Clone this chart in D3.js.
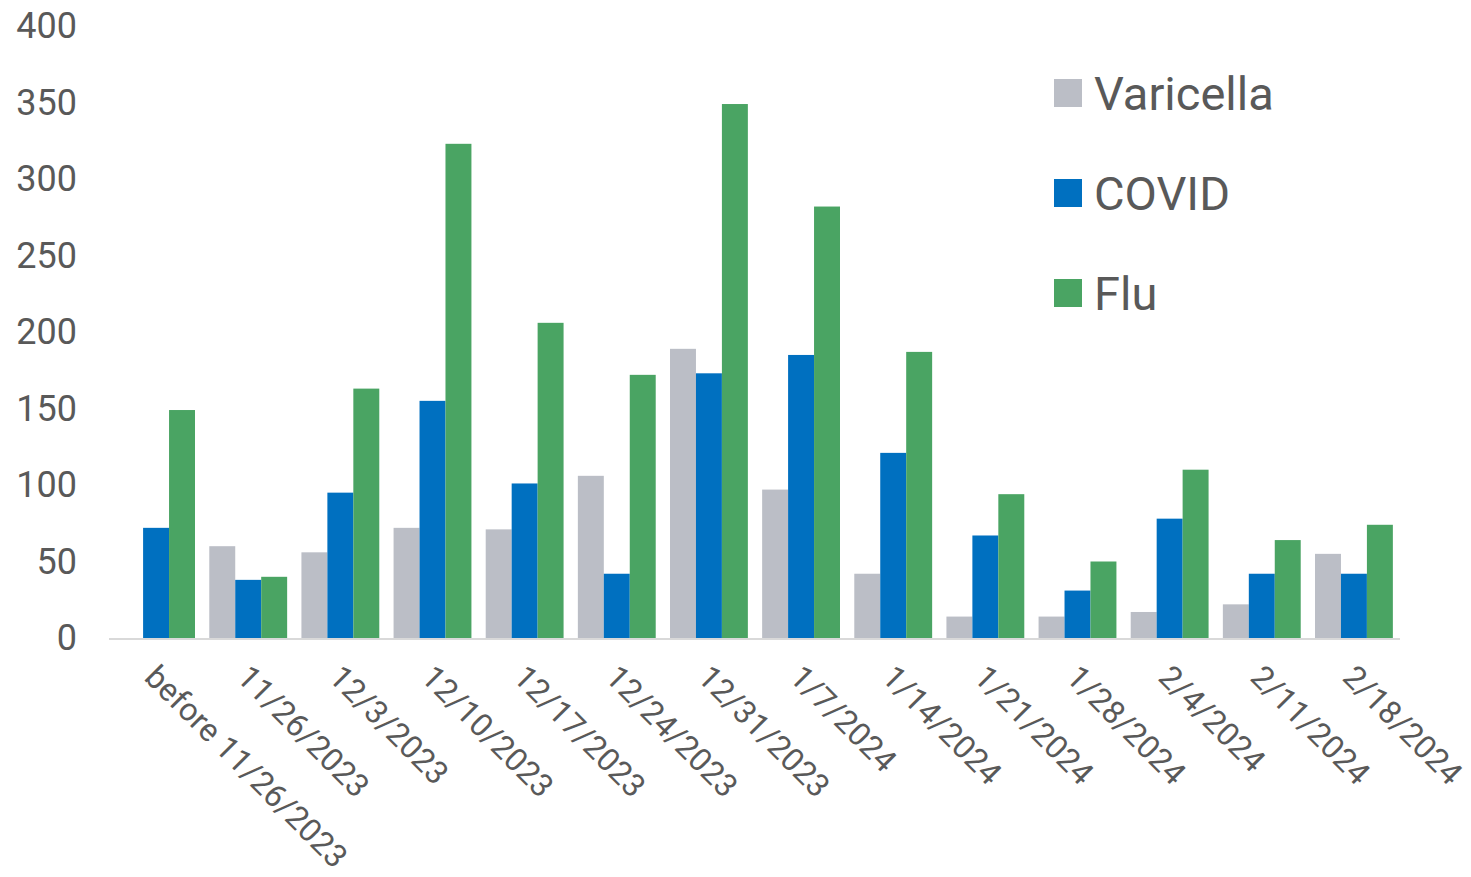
<!DOCTYPE html>
<html>
<head>
<meta charset="utf-8">
<script src="https://cdn.jsdelivr.net/npm/d3@7"></script>
<style>
  body { margin: 0; background: #fff; }
  text { font-family: Roboto, "Noto Sans", sans-serif; fill: #595959; }
</style>
</head>
<body>
<div id="chart"></div>
<script>
// categories and series
var categories = ['before 11/26/2023', '11/26/2023', '12/3/2023', '12/10/2023', '12/17/2023',
  '12/24/2023', '12/31/2023', '1/7/2024', '1/14/2024', '1/21/2024', '1/28/2024',
  '2/4/2024', '2/11/2024', '2/18/2024']
var seriesNames = ['Varicella', 'COVID', 'Flu']
var varicella = [0, 60, 56, 72, 71, 106, 189, 97, 42, 14, 14, 17, 22, 55]
var covid = [72, 38, 95, 155, 101, 42, 173, 185, 121, 67, 31, 78, 42, 42]
var flu = [149, 40, 163, 323, 206, 172, 349, 282, 187, 94, 50, 110, 64, 74]
var yTicks = [0, 50, 100, 150, 200, 250, 300, 350, 400]
var colors = ['#BBBEC6', '#0070C0', '#4AA463']

var width = 1471
var height = 877
var margin = {top: 26, right: 71, bottom: 239, left: 110}

var rows = categories.map((c, i) => {
  return {cat: c, values: [varicella[i], covid[i], flu[i]]}
})

var svg = d3.select('#chart')
  .append('svg')
  .attr('width', width)
  .attr('height', height)

var x0 = d3.scaleBand()
  .domain(categories)
  .range([margin.left, width - margin.right])
  .paddingInner(0.155)
  .paddingOuter(0.0775)

var x1 = d3.scaleBand()
  .domain(seriesNames)
  .range([0, x0.bandwidth()])

var y = d3.scaleLinear()
  .domain([0, 400])
  .range([height - margin.bottom, margin.top])

// bars
var groups = svg.selectAll('g.cat')
  .data(rows)
  .enter()
  .append('g')
  .attr('class', 'cat')
  .attr('transform', (d) => { return 'translate(' + x0(d.cat) + ',0)' })

groups.selectAll('rect')
  .data((d) => { return d.values.map((v, j) => { return {name: seriesNames[j], value: v, j: j} }) })
  .enter()
  .append('rect')
  .attr('x', (d) => { return x1(d.name) })
  .attr('width', x1.bandwidth())
  .attr('y', (d) => { return y(d.value) })
  .attr('height', (d) => { return y(0) - y(d.value) })
  .attr('fill', (d) => { return colors[d.j] })

// y axis labels only, no line
var yAxis = svg.append('g')
  .attr('transform', 'translate(' + (margin.left - 33) + ',0)')
  .call(d3.axisLeft(y).tickValues(yTicks).tickSize(0).tickPadding(0))
yAxis.select('.domain').remove()
yAxis.selectAll('text')
  .style('font-size', '36px')
  .attr('fill', '#595959')

// x axis baseline
svg.append('line')
  .attr('x1', margin.left - 1)
  .attr('x2', width - margin.right)
  .attr('y1', y(0) + 1)
  .attr('y2', y(0) + 1)
  .attr('stroke', '#D9D9D9')
  .attr('stroke-width', 2)

// rotated category labels
svg.append('g')
  .selectAll('text')
  .data(categories)
  .enter()
  .append('text')
  .attr('transform', (d) => {
    var cx = x0(d) + x0.bandwidth() / 2 - 13
    return 'translate(' + cx + ',' + (y(0) + 41) + ') rotate(45)'
  })
  .style('font-size', '32px')
  .text((d) => { return d })

// legend
var legend = svg.append('g')
  .attr('transform', 'translate(1054,79)')
var item = legend.selectAll('g')
  .data(seriesNames)
  .enter()
  .append('g')
  .attr('transform', (d, i) => { return 'translate(0,' + (i * 100) + ')' })
item.append('rect')
  .attr('width', 28)
  .attr('height', 28)
  .attr('fill', (d, i) => { return colors[i] })
item.append('text')
  .attr('x', 40)
  .attr('y', 31)
  .style('font-size', '47px')
  .text((d) => { return d })
</script>
</body>
</html>
